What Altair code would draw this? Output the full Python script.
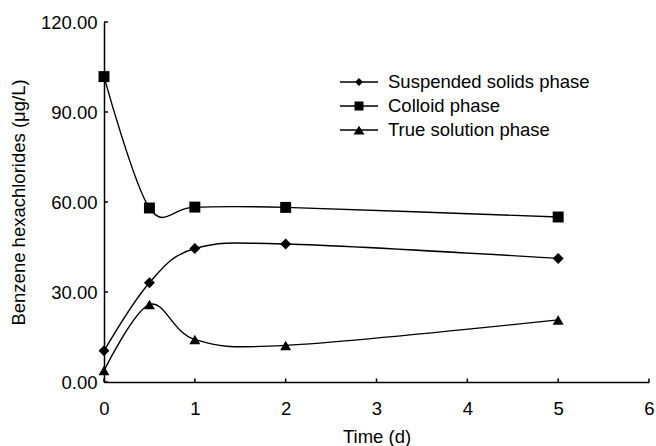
import altair as alt
import pandas as pd

# Sampling times (days) and measured concentrations (ug/L) per phase
time_d = [0, 0.5, 1, 2, 5]
suspended = [10.4, 33.1, 44.5, 46.0, 41.2]
colloid = [101.8, 58.0, 58.3, 58.2, 55.0]
true_solution = [3.8, 25.8, 14.2, 12.2, 20.7]

series_names = ["Suspended solids phase", "Colloid phase", "True solution phase"]
x_ticks = [0, 1, 2, 3, 4, 5, 6]
y_ticks = [0, 30, 60, 90, 120]

FONT = "Liberation Sans"
FS = 18.5

rows = []
for name, vals in zip(series_names, [suspended, colloid, true_solution]):
    for t, v in zip(time_d, vals):
        rows.append({"series": name, "time": t, "value": v})
df = pd.DataFrame(rows)

x_scale = alt.Scale(domain=[0, 6], nice=False, zero=False)
y_scale = alt.Scale(domain=[0, 120], nice=False)

x_enc = alt.X(
    "time:Q", scale=x_scale,
    axis=alt.Axis(values=x_ticks, format="d", title="Time (d)", labelFlush=False,
                  labelPadding=17, titleY=60, titleBaseline="alphabetic"),
)
y_enc = alt.Y(
    "value:Q", scale=y_scale,
    axis=alt.Axis(values=y_ticks, format=".2f", labelFlush=False,
                  title="Benzene hexachlorides (\u03bcg/L)",
                  labelPadding=7, titleX=-80, titleBaseline="alphabetic"),
)

lines = alt.Chart(df).mark_line(
    interpolate="cardinal", color="black", strokeWidth=1.4
).encode(x=x_enc, y=y_enc, detail="series:N")

points = alt.Chart(df).mark_point(
    filled=True, color="black", size=120, opacity=1
).encode(
    x="time:Q", y="value:Q",
    shape=alt.Shape("series:N",
                    scale=alt.Scale(domain=series_names,
                                    range=["diamond", "square", "triangle-up"]),
                    legend=None),
)

# Legend keys: a short line with the marker on it
legend_paths = [
    "M-1.9,-0.07H1.9V0.07H-1.9Z M0,-0.4L0.4,0L0,0.4L-0.4,0Z",
    "M-1.9,-0.07H1.9V0.07H-1.9Z M-0.45,-0.45H0.45V0.45H-0.45Z",
    "M-1.9,-0.07H1.9V0.07H-1.9Z M0,-0.42L0.55,0.45H-0.55Z",
]
legend_layer = alt.Chart(df).mark_point(
    opacity=0, filled=True, color="black"
).encode(
    x="time:Q", y="value:Q",
    shape=alt.Shape(
        "series:N",
        scale=alt.Scale(domain=series_names, range=legend_paths),
        legend=alt.Legend(
            title=None, orient="none", legendX=245, legendY=50,
            symbolSize=400, symbolFillColor="black", symbolStrokeColor="black",
            symbolStrokeWidth=0, symbolOpacity=1,
            labelFont=FONT, labelFontSize=FS, labelColor="black",
            labelOffset=19, rowPadding=4, padding=0, labelLimit=400,
        ),
    ),
)

# Inward-pointing tick marks
xt = pd.DataFrame({"time": x_ticks})
yt = pd.DataFrame({"value": y_ticks})
x_tick_marks = alt.Chart(xt).mark_rule(color="black", strokeWidth=1.5).encode(
    x="time:Q", y=alt.value(360), y2=alt.value(356.5)
)
y_tick_marks = alt.Chart(yt).mark_rule(color="black", strokeWidth=1.5).encode(
    y="value:Q", x=alt.value(0), x2=alt.value(4)
)

chart = alt.layer(
    lines, points, legend_layer, x_tick_marks, y_tick_marks
).resolve_scale(shape="independent").properties(
    width=545, height=360,
    background="white",
    autosize=alt.AutoSizeParams(type="none"),
    padding={"left": 104, "top": 22, "right": 7, "bottom": 64},
).configure_view(stroke=None).configure_axis(
    grid=False, tickSize=0, domainColor="black", domainWidth=1.5,
    labelFont=FONT, labelFontSize=FS, labelColor="black",
    titleFont=FONT, titleFontSize=FS, titleColor="black",
    titleFontWeight="normal",
)

chart.save("out.html", embed_options={"renderer": "svg", "actions": False})
